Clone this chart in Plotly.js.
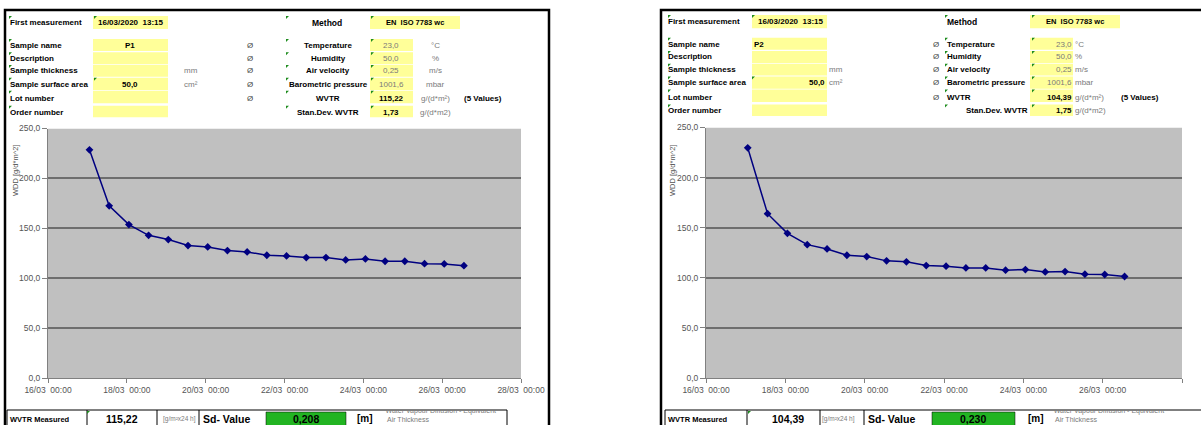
<!DOCTYPE html>
<html><head><meta charset="utf-8">
<script src="https://cdn.plot.ly/plotly-3.0.1.min.js"></script>
<style>html,body{margin:0;padding:0;background:#fff;overflow:hidden}#chart{width:1201px;height:425px}</style>
</head><body><div id="chart"></div>
<script>
// ---------------- data ----------------
const measurementTimes = [
  '2020-03-17 01:15','2020-03-17 13:15','2020-03-18 01:15','2020-03-18 13:15',
  '2020-03-19 01:15','2020-03-19 13:15','2020-03-20 01:15','2020-03-20 13:15',
  '2020-03-21 01:15','2020-03-21 13:15','2020-03-22 01:15','2020-03-22 13:15',
  '2020-03-23 01:15','2020-03-23 13:15','2020-03-24 01:15','2020-03-24 13:15',
  '2020-03-25 01:15','2020-03-25 13:15','2020-03-26 01:15','2020-03-26 13:15'];
const wddP1 = [228.6,172.5,153.7,143.0,138.7,132.7,131.3,127.7,126.3,123.0,
               122.3,120.7,120.7,118.3,119.3,117.0,117.0,114.6,114.3,112.6];
const wddP2 = [229.7,164.0,144.4,133.1,128.8,122.5,121.2,116.9,115.9,112.2,
               111.6,109.9,109.9,107.6,108.2,105.9,106.2,103.6,103.3,101.3];
const yTickValues = [0,50,100,150,200,250];
const xTickDates = ['2020-03-16','2020-03-18','2020-03-20','2020-03-22','2020-03-24','2020-03-26','2020-03-28'];
const xTickLabels = ['16/03\u00a0\u00a000:00','18/03\u00a0\u00a000:00','20/03\u00a0\u00a000:00','22/03\u00a0\u00a000:00',
                     '24/03\u00a0\u00a000:00','26/03\u00a0\u00a000:00','28/03\u00a0\u00a000:00'];
const yAxisLabel = 'WDD [g/d*m^2]';

const firstMeasurement = '16/03/2020\u00a0\u00a013:15';
const methodName = 'EN\u00a0\u00a0ISO 7783 wc';
const sampleLabels = ['Sample name','Description','Sample thickness','Sample surface area','Lot number','Order number'];
const conditionLabels = ['Temperature','Humidity','Air velocity','Barometric pressure','WVTR','Stan.Dev. WVTR'];
const conditionValues = ['23,0','50,0','0,25','1001,6'];
const conditionUnits = ['°C','%','m/s','mbar','g/(d*m²)','g/(d*m2)'];
const sampleNames = ['P1','P2'];
const surfaceAreas = ['50,0','50,0'];
const wvtrValues = ['115,22','104,39'];
const stdDevValues = ['1,73','1,75'];
const sdValues = ['0,208','0,230'];

// ---------------- helpers ----------------
const W = 1201, H = 425;
const X = p => p / W, Y = p => 1 - p / H;
const FONT = 'Arial, "Liberation Sans", sans-serif';
const annotations = [], shapes = [];
function txt(text, x, y, o) {
  o = o || {};
  annotations.push({text: o.bold ? '<b>' + text + '</b>' : text, x: X(x), y: Y(y), xref: 'paper', yref: 'paper',
    xanchor: o.anchor || 'left', yanchor: 'middle', showarrow: false, borderpad: 0,
    textangle: o.angle || 0,
    font: {family: FONT, size: o.size || 8, color: o.color || '#000'}});
}
function rect(x0, y0, x1, y1, fill, line, lw) {
  shapes.push({type: 'rect', xref: 'paper', yref: 'paper', x0: X(x0), x1: X(x1), y0: Y(y1), y1: Y(y0),
    fillcolor: fill || 'rgba(0,0,0,0)', line: {color: line || 'rgba(0,0,0,0)', width: lw || 0}, layer: 'below'});
}
function vline(x, y0, y1, color, w) {
  shapes.push({type: 'line', xref: 'paper', yref: 'paper', x0: X(x), x1: X(x), y0: Y(y0), y1: Y(y1),
    line: {color: color || '#000', width: w || 1}});
}
function mark(x, y) {
  shapes.push({type: 'path', xref: 'paper', yref: 'paper', layer: 'above',
    path: `M ${X(x)},${Y(y)} L ${X(x + 3)},${Y(y)} L ${X(x)},${Y(y + 3)} Z`,
    fillcolor: '#1e8c1e', line: {width: 0}});
}
const YELLOW = '#ffff99', GREEN = '#22b422', GREY = '#7a7a7a';

// ---------------- left panel ----------------
rect(5, 10, 549, 440, null, '#000', 2.5);
const rowTextL = [45.5, 58, 70.5, 84, 98.3, 112];
const rowCellL = [[39, 51], [52.3, 64.3], [65, 76.7], [77.7, 90], [90.7, 103.3], [105.7, 117.3]];
txt('First measurement', 9, 23, {bold: true});
rect(93, 16, 168, 29, YELLOW);
txt(firstMeasurement, 130, 22.5, {bold: true, anchor: 'center'});
mark(9, 16); mark(94, 16); mark(286, 16); mark(371, 16);
txt('Method', 327, 22.5, {bold: true, anchor: 'center', size: 8.5});
rect(370, 16, 460, 29, YELLOW);
txt(methodName, 415, 22.5, {bold: true, anchor: 'center', size: 7.5});
sampleLabels.forEach((s, i) => {
  txt(s, 9, rowTextL[i], {bold: true});
  rect(93, rowCellL[i][0], 168, rowCellL[i][1], YELLOW);
  mark(9, rowCellL[i][0]);
  mark(286, rowCellL[i][0]);
  if (i < 5) txt('Ø', 250, rowTextL[i], {anchor: 'center', color: '#444'});
});
txt(sampleNames[0], 130, rowTextL[0], {bold: true, anchor: 'center'});
txt(surfaceAreas[0], 130, rowTextL[3], {bold: true, anchor: 'center'});
mark(94, rowCellL[3][0]);
txt('mm', 191, rowTextL[2], {anchor: 'center', color: GREY});
txt('cm²', 191, rowTextL[3], {anchor: 'center', color: GREY});
conditionLabels.forEach((s, i) => {
  txt(s, 328, rowTextL[i], {bold: true, anchor: 'center'});
  rect(370, rowCellL[i][0], 413, rowCellL[i][1], YELLOW);
  mark(371, rowCellL[i][0]);
  txt(conditionUnits[i], 435, rowTextL[i], {anchor: 'center', color: GREY});
});
conditionValues.forEach((v, i) => txt(v, 391, rowTextL[i], {anchor: 'center', color: GREY}));
txt(wvtrValues[0], 391, rowTextL[4], {bold: true, anchor: 'center'});
txt(stdDevValues[0], 391, rowTextL[5], {bold: true, anchor: 'center'});
txt('(5 Values)', 483, rowTextL[4], {bold: true, anchor: 'center'});
txt(yAxisLabel, 15, 171, {angle: -90, anchor: 'center', size: 7.5, color: '#555'});
// bottom row
rect(7, 410, 507, 440, null, '#000', 1);
[87, 157, 199].forEach(x => vline(x, 410, 440));
rect(266, 412, 346, 440, GREEN, '#000', 0.5);
mark(87, 411);
txt('WVTR Measured', 9, 419.3, {bold: true, size: 7.5});
txt(wvtrValues[0], 122, 418.5, {bold: true, anchor: 'center', size: 10.5});
txt('[g/m²x24 h]', 179, 419.3, {anchor: 'center', size: 6.5, color: GREY});
txt('Sd- Value', 202, 418.5, {bold: true, size: 10.5});
txt(sdValues[0], 306, 418.5, {bold: true, anchor: 'center', size: 10.5});
txt('[m]', 365, 418.5, {bold: true, anchor: 'center', size: 10});
txt('Air Thickness', 386, 419.5, {size: 7, color: GREY});

// ---------------- right panel ----------------
rect(661, 10, 1215, 440, null, '#000', 2.5);
const rowTextR = rowTextL.map(v => v - 1.3);
const rowCellR = rowCellL.map(c => [c[0] - 1.3, c[1] - 1.3]);
txt('First measurement', 667, 21.7, {bold: true});
rect(752, 15, 827, 28.3, YELLOW);
txt(firstMeasurement, 790, 21.7, {bold: true, anchor: 'center'});
mark(668, 15); mark(752, 15); mark(945, 15); mark(1032, 15);
txt('Method', 946, 21.7, {bold: true, size: 8.5});
rect(1030, 15, 1120, 28.3, YELLOW);
txt(methodName, 1075, 21.7, {bold: true, anchor: 'center', size: 7.5});
sampleLabels.forEach((s, i) => {
  txt(s, 667, rowTextR[i], {bold: true});
  rect(752, rowCellR[i][0], 827, rowCellR[i][1], YELLOW);
  mark(668, rowCellR[i][0]);
});
txt(sampleNames[1], 753, rowTextR[0], {bold: true});
txt(surfaceAreas[1], 826, rowTextR[3], {bold: true, anchor: 'right'});
mark(752, rowCellR[3][0]);
txt('mm', 828, rowTextR[2], {color: GREY});
txt('cm²', 828, rowTextR[3], {color: GREY});
conditionLabels.forEach((s, i) => {
  if (i < 5) { txt(s, 946, rowTextR[i], {bold: true}); txt('Ø', 936, rowTextR[i], {anchor: 'center', color: '#444'}); }
  else txt(s, 1029, rowTextR[i], {bold: true, anchor: 'right'});
  rect(1030, rowCellR[i][0], 1073, rowCellR[i][1], YELLOW);
  mark(945, rowCellR[i][0]);
  mark(1032, rowCellR[i][0]);
  txt(conditionUnits[i], 1074, rowTextR[i], {color: GREY});
});
conditionValues.forEach((v, i) => txt(v, 1073, rowTextR[i], {anchor: 'right', color: GREY}));
txt(wvtrValues[1], 1073, rowTextR[4], {bold: true, anchor: 'right'});
txt(stdDevValues[1], 1073, rowTextR[5], {bold: true, anchor: 'right'});
txt('(5 Values)', 1140, rowTextR[4], {bold: true, anchor: 'center'});
txt(yAxisLabel, 672, 171, {angle: -90, anchor: 'center', size: 7.5, color: '#555'});
rect(665, 410, 1215, 440, null, '#000', 1);
[747, 820, 864].forEach(x => vline(x, 410, 440));
rect(932, 412, 1015, 440, GREEN, '#000', 0.5);
mark(748, 411);
txt('WVTR Measured', 667, 419.3, {bold: true, size: 7.5});
txt(wvtrValues[1], 788, 418.5, {bold: true, anchor: 'center', size: 10.5});
txt('[g/m²x24 h]', 838, 419.3, {anchor: 'center', size: 6.5, color: GREY});
txt('Sd- Value', 867, 418.5, {bold: true, size: 10.5});
txt(sdValues[1], 973, 418.5, {bold: true, anchor: 'center', size: 10.5});
txt('[m]', 1036, 418.5, {bold: true, anchor: 'center', size: 10});
txt('Air Thickness', 1054, 419.5, {size: 7, color: GREY});

// ---------------- chart axes ----------------
function xAxis(x0, x1, anchor) {
  return {domain: [X(x0), X(x1)], anchor: anchor, type: 'date', range: ['2020-03-16', '2020-03-28'],
    tickvals: xTickDates, ticktext: xTickLabels, ticks: 'outside', ticklen: 4, tickcolor: '#808080',
    showline: true, linecolor: '#808080', linewidth: 1, showgrid: false, zeroline: false,
    tickfont: {family: FONT, size: 8.5, color: '#555'}, fixedrange: true};
}
function yAxis(y0, y1, anchor) {
  return {domain: [Y(y1), Y(y0)], anchor: anchor, range: [0, 250], tickvals: yTickValues, tickformat: '.1f',
    ticks: 'outside', ticklen: 5, tickcolor: '#808080', showline: true, linecolor: '#808080', linewidth: 1,
    showgrid: true, gridcolor: '#6e6e6e', gridwidth: 2, zeroline: false,
    tickfont: {family: FONT, size: 8.5, color: '#555'}, fixedrange: true};
}
function hidden(d0, d1, anchor) {
  return {domain: [d0, d1], anchor: anchor, range: [0, 1], visible: false, fixedrange: true};
}
['x', 'x2'].forEach(xr => shapes.push({type: 'rect', xref: xr, yref: xr === 'x' ? 'y' : 'y2',
  x0: '2020-03-16', x1: '2020-03-28', y0: 0, y1: 250, fillcolor: '#c0c0c0', line: {width: 0}, layer: 'below'}));

const lineStyle = {color: '#000080', width: 1.5};
const markerStyle = {symbol: 'diamond', size: 6, color: '#000080'};
const traces = [
  {x: measurementTimes, y: wddP1, xaxis: 'x', yaxis: 'y', mode: 'lines+markers', line: lineStyle, marker: markerStyle, hoverinfo: 'skip'},
  {x: measurementTimes, y: wddP2, xaxis: 'x2', yaxis: 'y2', mode: 'lines+markers', line: lineStyle, marker: markerStyle, hoverinfo: 'skip'},
  {x: [0.005], y: [0.97], xaxis: 'x3', yaxis: 'y3', mode: 'text', text: ['Water Vapour Diffusion - Equivalent'],
   textposition: 'middle right', textfont: {family: FONT, size: 7, color: GREY}, cliponaxis: true, hoverinfo: 'skip'},
  {x: [0.005], y: [0.97], xaxis: 'x4', yaxis: 'y4', mode: 'text', text: ['Water Vapour Diffusion - Equivalent'],
   textposition: 'middle right', textfont: {family: FONT, size: 7, color: GREY}, cliponaxis: true, hoverinfo: 'skip'}
];

const layout = {
  width: W, height: H, margin: {l: 0, r: 0, t: 0, b: 0}, showlegend: false,
  paper_bgcolor: '#fff', plot_bgcolor: 'rgba(0,0,0,0)', separators: ',.',
  font: {family: FONT},
  xaxis: xAxis(48, 521, 'y'), yaxis: yAxis(128.5, 378, 'x'),
  xaxis2: xAxis(706, 1182, 'y2'), yaxis2: yAxis(127.5, 378, 'x2'),
  xaxis3: hidden(X(385), X(507), 'y3'), yaxis3: hidden(Y(425), Y(410.5), 'x3'),
  xaxis4: hidden(X(1053), X(1195), 'y4'), yaxis4: hidden(Y(425), Y(410.5), 'x4'),
  shapes: shapes, annotations: annotations
};
Plotly.newPlot('chart', traces, layout, {staticPlot: true, displayModeBar: false});
</script></body></html>
